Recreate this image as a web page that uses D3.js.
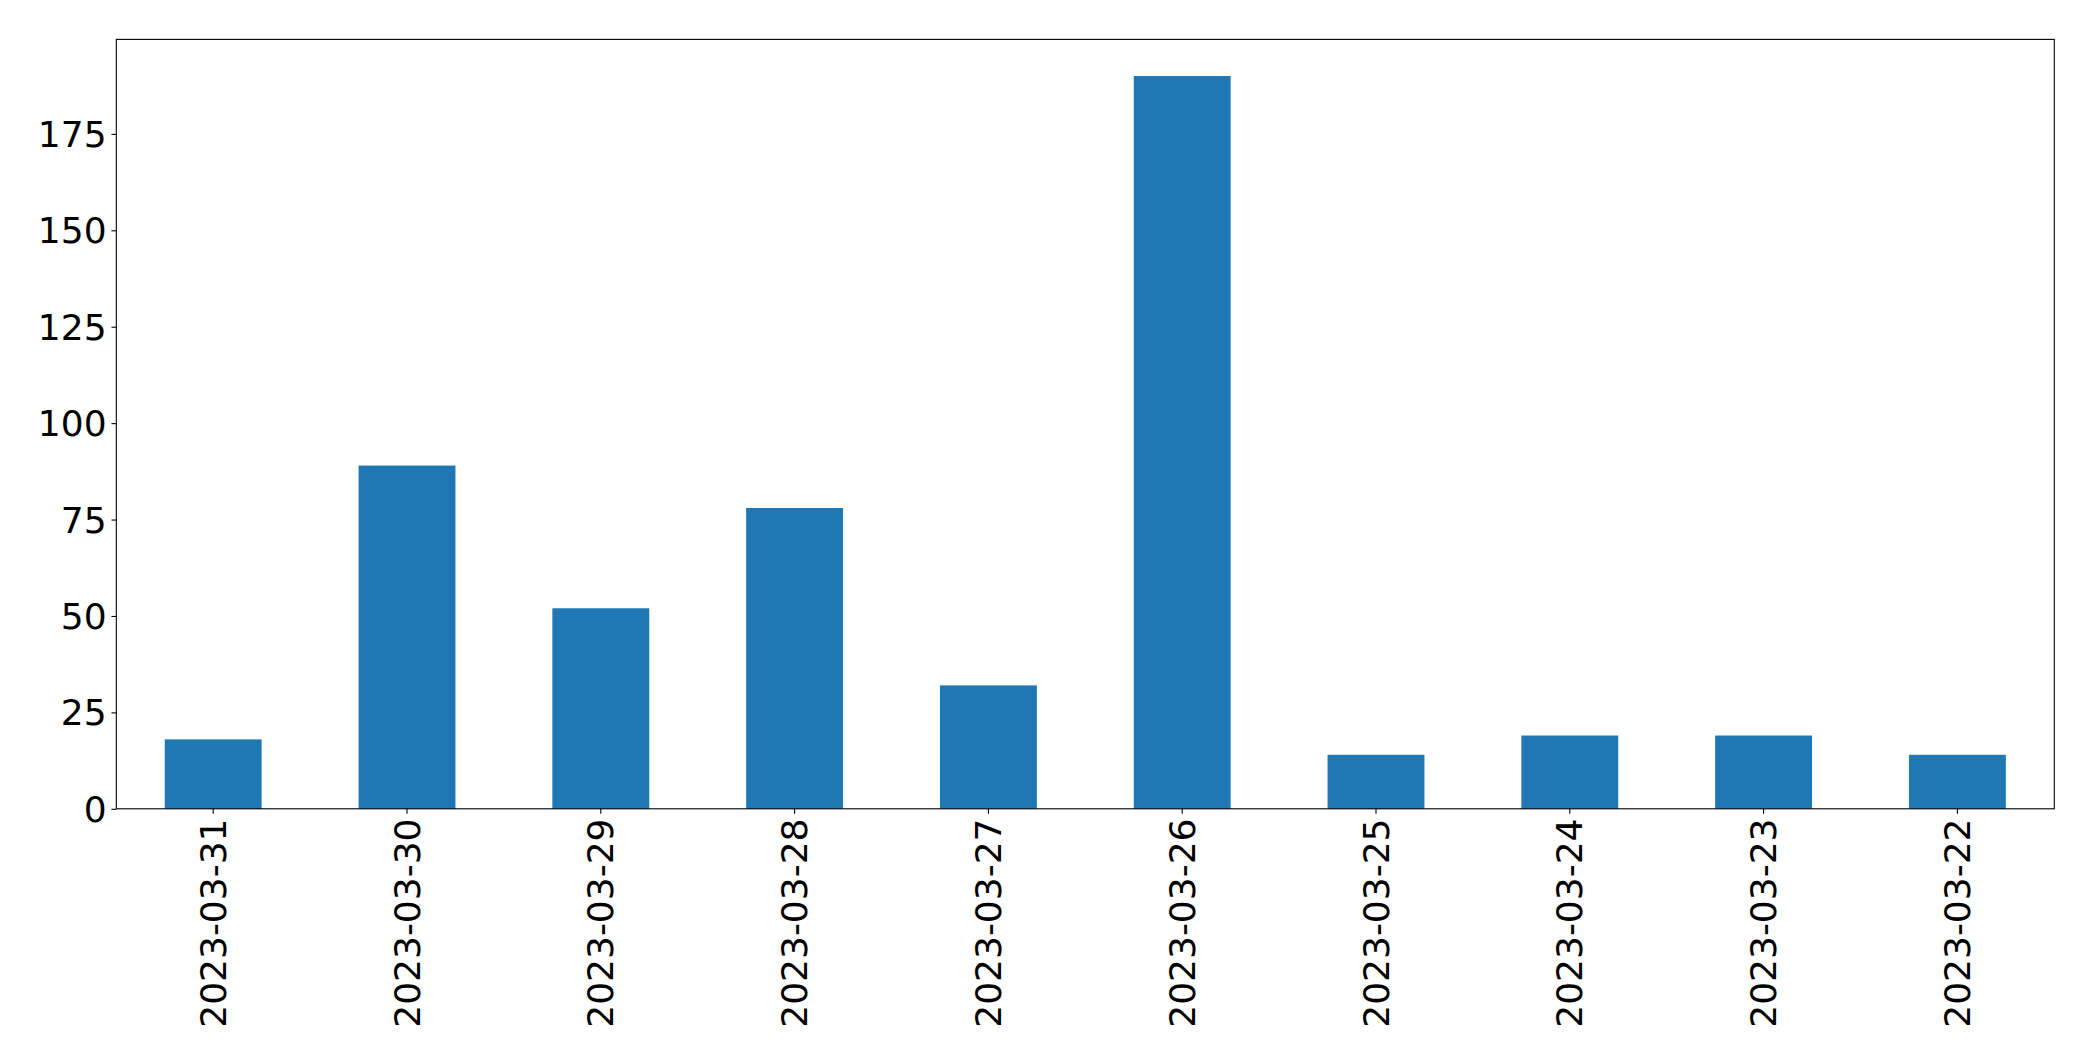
<!DOCTYPE html>
<html>
<head>
<meta charset="utf-8">
<script src="https://cdn.jsdelivr.net/npm/d3@7"></script>
<style>
  html, body { margin: 0; padding: 0; background: #fff; }
  svg { display: block; }
  text { font-family: "DejaVu Sans", sans-serif; fill: #000; }
</style>
</head>
<body>
<svg id="chart" width="2093" height="1061"></svg>
<script>
const categories = ["2023-03-31","2023-03-30","2023-03-29","2023-03-28","2023-03-27","2023-03-26","2023-03-25","2023-03-24","2023-03-23","2023-03-22"];
const values = [18, 89, 52, 78, 32, 190, 14, 19, 19, 14];
const yTicks = [0, 25, 50, 75, 100, 125, 150, 175];

const W = 2093, H = 1061;
const margin = { left: 116.3, right: W - 2054.3, top: 39.4, bottom: H - 808.8 };
const svg = d3.select("#chart");
const g = svg.append("g");

const x = d3.scaleBand()
  .domain(categories)
  .range([margin.left, W - margin.right])
  .paddingInner(0.5).paddingOuter(0.25);

const yMax = d3.max(values) * 1.05;
const y = d3.scaleLinear().domain([0, yMax]).range([H - margin.bottom, margin.top]);

g.selectAll("rect.bar")
  .data(values)
  .enter().append("rect")
  .attr("class", "bar")
  .attr("x", (d, i) => x(categories[i]))
  .attr("width", x.bandwidth())
  .attr("y", d => y(d))
  .attr("height", d => y(0) - y(d))
  .attr("fill", "#1f77b4");

const fontSize = 36;
const tickLen = 4.86, pad = 4.86;

// Y axis
const yAxis = g.append("g")
  .attr("transform", `translate(${margin.left},0)`)
  .call(d3.axisLeft(y).tickValues(yTicks).tickSize(tickLen).tickPadding(pad).tickFormat(d3.format("d")));
yAxis.select(".domain").remove();
yAxis.selectAll(".tick line").attr("stroke", "#000").attr("stroke-width", 1.1);
yAxis.selectAll(".tick text").attr("font-size", fontSize).attr("font-family", "DejaVu Sans").attr("dy", "0.35em");

// X axis
const xAxis = g.append("g")
  .attr("transform", `translate(0,${H - margin.bottom})`)
  .call(d3.axisBottom(x).tickSize(tickLen).tickPadding(pad));
xAxis.select(".domain").remove();
xAxis.selectAll(".tick line").attr("stroke", "#000").attr("stroke-width", 1.1);
xAxis.selectAll(".tick text")
  .attr("font-size", fontSize)
  .attr("font-family", "DejaVu Sans")
  .attr("text-anchor", "end")
  .attr("transform", "rotate(-90)")
  .attr("x", -(tickLen + pad))
  .attr("y", 0)
  .attr("dy", "0.35em");

// Frame
g.append("rect")
  .attr("x", margin.left)
  .attr("y", margin.top)
  .attr("width", W - margin.right - margin.left)
  .attr("height", H - margin.bottom - margin.top)
  .attr("fill", "none")
  .attr("stroke", "#000")
  .attr("stroke-width", 1.1);
</script>
</body>
</html>
